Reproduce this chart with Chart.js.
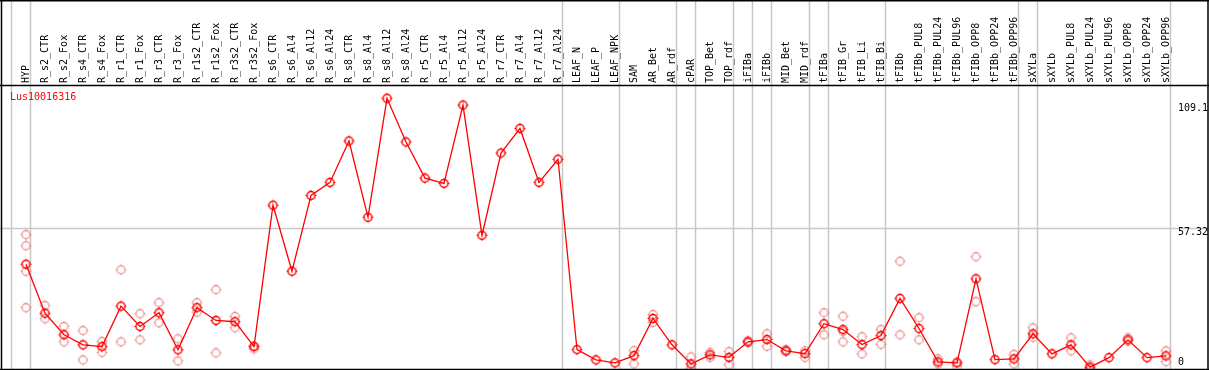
<!DOCTYPE html>
<html>
<head>
<meta charset="utf-8">
<script src="https://cdn.jsdelivr.net/npm/chart.js@4/dist/chart.umd.min.js"></script>
<style>
  html, body { margin: 0; padding: 0; background: #fff; }
  #wrap { width: 1209px; height: 370px; }
</style>
</head>
<body>
<div id="wrap"><canvas id="chart" width="1209" height="370"></canvas></div>
<script>
// data
const title = 'Lus10016316';

const categories = [
    'HYP',
    'R_s2_CTR', 'R_s2_Fox', 'R_s4_CTR', 'R_s4_Fox', 'R_r1_CTR', 'R_r1_Fox', 'R_r3_CTR', 'R_r3_Fox',
    'R_r1s2_CTR', 'R_r1s2_Fox', 'R_r3s2_CTR', 'R_r3s2_Fox', 'R_s6_CTR', 'R_s6_Al4', 'R_s6_Al12', 'R_s6_Al24',
    'R_s8_CTR', 'R_s8_Al4', 'R_s8_Al12', 'R_s8_Al24', 'R_r5_CTR', 'R_r5_Al4', 'R_r5_Al12', 'R_r5_Al24',
    'R_r7_CTR', 'R_r7_Al4', 'R_r7_Al12', 'R_r7_Al24',
    'LEAF_N', 'LEAF_P', 'LEAF_NPK',
    'SAM', 'AR_Bet', 'AR_rdf',
    'cPAR',
    'TOP_Bet', 'TOP_rdf',
    'iFIBa',
    'iFIBb',
    'MID_Bet', 'MID_rdf',
    'tFIBa',
    'tFIB_Gr', 'tFIB_Li', 'tFIB_Bi',
    'tFIBb', 'tFIBb_PUL8', 'tFIBb_PUL24', 'tFIBb_PUL96', 'tFIBb_OPP8', 'tFIBb_OPP24', 'tFIBb_OPP96',
    'sXYLa',
    'sXYLb', 'sXYLb_PUL8', 'sXYLb_PUL24', 'sXYLb_PUL96', 'sXYLb_OPP8', 'sXYLb_OPP24', 'sXYLb_OPP96'
];

// number of categories in each group (gray separators between groups)
const groupSizes = [1, 28, 3, 3, 1, 2, 1, 1, 2, 1, 3, 7, 1, 7];

// mean expression
const means = [
    43.0,
    23.5, 14.9, 10.9, 10.2, 26.3, 18.2, 23.7, 8.9,
    25.7, 20.6, 20.1, 10.2, 66.5, 40.2, 70.4, 75.6,
    92.1, 61.7, 109.1, 91.7, 77.3, 75.2, 106.4, 54.5,
    87.3, 97.1, 75.6, 84.8,
    9.0, 4.9, 3.7,
    6.6, 21.4, 10.9,
    3.3,
    6.9, 5.9,
    12.1,
    13.0,
    8.5, 7.4,
    19.3,
    17.0, 11.0, 14.6,
    29.4, 17.4, 4.1, 3.7, 37.2, 5.0, 5.3,
    15.3,
    7.3, 10.9, 2.0, 5.8, 12.9, 5.8, 6.5
];

// single replicates (faint circles)
const replicates = [
    [54.8, 50.4, 40.2, 25.7],
    [26.6, 21.3], [18.2, 12.1], [16.6, 4.9], [12.2, 7.9], [40.8, 12.1], [23.3, 12.9], [27.7, 19.7], [13.3, 4.5],
    [27.7, 23.9], [32.9, 7.7], [22.2, 17.7], [10.5, 9.3], [], [], [], [],
    [], [], [], [], [], [], [], [],
    [], [], [], [],
    [], [], [],
    [8.6, 3.3], [23.0, 19.8], [],
    [6.1, 1.6],
    [7.9, 5.9], [8.2, 2.9],
    [12.5, 11.8],
    [15.3, 10.3],
    [9.0, 8.2], [8.5, 5.9],
    [23.7, 14.9],
    [22.3, 16.2, 12.1], [14.1, 7.3], [17.0, 11.1],
    [44.2, 14.9], [21.7, 12.9], [5.3, 3.3], [4.1, 2.4], [46.0, 28.1], [], [7.1, 3.3],
    [17.7, 13.9],
    [], [13.7, 8.5], [2.9, 1.4], [], [13.7, 12.3], [], [8.5, 4.2]
];

const yTicks = [0, 57.32, 109.1];
const gridTicks = [57.32];

const FONT = '10px "DejaVu Sans Mono", monospace';

// circle marker with little ticks
function makeMarker(color, lw) {
    const c = document.createElement('canvas');
    c.width = 13;
    c.height = 13;
    const g = c.getContext('2d');
    g.strokeStyle = color;
    g.lineWidth = lw;
    g.beginPath();
    g.arc(6.5, 6.5, 4, 0, Math.PI * 2);
    g.stroke();
    g.lineWidth = 1;
    g.beginPath();
    g.moveTo(6.5, 1); g.lineTo(6.5, 2.5);
    g.moveTo(6.5, 10.5); g.lineTo(6.5, 12);
    g.moveTo(1, 6.5); g.lineTo(2.5, 6.5);
    g.moveTo(10.5, 6.5); g.lineTo(12, 6.5);
    g.stroke();
    return c;
}

const mainMarker = makeMarker('#ff0000', 1.5);
const repMarker = makeMarker('rgba(228,120,120,0.75)', 1.3);

var meanPoints = [];
means.forEach((v, i) => meanPoints.push({ x: i, y: v }));
var repPoints = [];
replicates.forEach((list, i) => list.forEach(v => repPoints.push({ x: i, y: v })));

// group boundaries (index after which a separator sits)
var boundaries = [-1];
var acc = -1;
groupSizes.forEach(n => { acc += n; boundaries.push(acc); });

const framePlugin = {
    id: 'frame',
    beforeDatasetsDraw(chart) {
        const ctx = chart.ctx;
        const a = chart.chartArea;
        const xs = chart.scales.x;
        const ys = chart.scales.y;
        ctx.save();
        ctx.strokeStyle = '#c8c8c8';
        ctx.lineWidth = 1.5;
        gridTicks.forEach(t => {
            const y = Math.round(ys.getPixelForValue(t)) + 0.5;
            ctx.beginPath();
            ctx.moveTo(0, y);
            ctx.lineTo(a.right, y);
            ctx.stroke();
        });
        boundaries.forEach(b => {
            const x = Math.round(xs.getPixelForValue(b + 0.23)) + 0.5;
            ctx.beginPath();
            ctx.moveTo(x, 0);
            ctx.lineTo(x, chart.height);
            ctx.stroke();
        });
        ctx.restore();
    },
    afterDraw(chart) {
        const ctx = chart.ctx;
        const a = chart.chartArea;
        const xs = chart.scales.x;
        const ys = chart.scales.y;
        ctx.save();
        // borders
        ctx.strokeStyle = '#000';
        ctx.lineWidth = 1.5;
        ctx.beginPath();
        ctx.moveTo(0, 0.75); ctx.lineTo(chart.width, 0.75);
        ctx.moveTo(0, a.top + 0.5); ctx.lineTo(chart.width, a.top + 0.5);
        ctx.moveTo(1.5, 0); ctx.lineTo(1.5, chart.height);
        ctx.moveTo(a.right, 0); ctx.lineTo(a.right, chart.height);
        ctx.moveTo(0, a.bottom + 0.5); ctx.lineTo(chart.width, a.bottom + 0.5);
        ctx.stroke();

        // category labels, rotated
        ctx.font = FONT;
        ctx.fillStyle = '#000';
        ctx.textAlign = 'left';
        ctx.textBaseline = 'middle';
        categories.forEach((name, i) => {
            const x = xs.getPixelForValue(i);
            ctx.save();
            ctx.translate(x + 0.5, a.top - 2);
            ctx.rotate(-Math.PI / 2);
            ctx.fillText(name, 0, 0);
            ctx.restore();
        });

        // value labels on the right
        ctx.textBaseline = 'middle';
        yTicks.forEach(t => {
            let y = ys.getPixelForValue(t) + 4;
            y = Math.max(y, a.top + 23);
            y = Math.min(y, a.bottom - 7);
            ctx.fillText(String(t), xs.getPixelForValue(means.length - 1) + 12, y);
        });

        // title
        ctx.fillStyle = '#ff0000';
        ctx.fillText(title, 10, a.top + 12);
        ctx.restore();
    }
};

const ctx = document.getElementById('chart').getContext('2d');
const chart = new Chart(ctx, {
    type: 'line',
    data: {
        datasets: [{
            data: meanPoints,
            borderColor: '#ff0000',
            borderWidth: 1.3,
            pointStyle: mainMarker,
            pointRadius: 5,
            tension: 0,
            clip: false
        }, {
            data: repPoints,
            showLine: false,
            pointStyle: repMarker,
            pointRadius: 5,
            clip: false
        }]
    },
    options: {
        responsive: false,
        animation: false,
        layout: {
            autoPadding: false,
            padding: { top: 85, left: 1, right: 1, bottom: 1 }
        },
        scales: {
            x: {
                type: 'linear',
                display: false,
                min: -25 / 19,
                max: 1182 / 19
            },
            y: {
                display: false,
                min: 1.27,
                max: 114.4
            }
        },
        plugins: {
            legend: { display: false },
            tooltip: { enabled: false },
            title: { display: false }
        }
    },
    plugins: [framePlugin]
});
</script>
</body>
</html>
